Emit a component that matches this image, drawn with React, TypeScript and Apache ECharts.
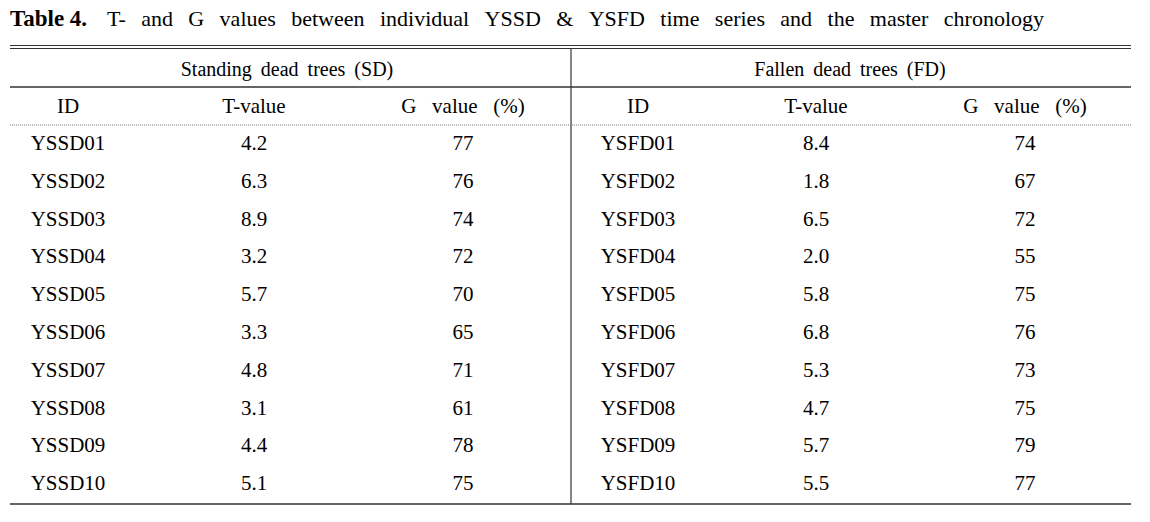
import React, { useEffect, useRef } from "react";
import * as echarts from "echarts";

const titleBold = "Table 4.";
const titleRest = "T- and G values between individual YSSD & YSFD time series and the master chronology";
const groupHeaders = ["Standing dead trees (SD)", "Fallen dead trees (FD)"];
const columnHeaders = ["ID", "T-value", "G value (%)", "ID", "T-value", "G value (%)"];
const sdIds = ["YSSD01", "YSSD02", "YSSD03", "YSSD04", "YSSD05", "YSSD06", "YSSD07", "YSSD08", "YSSD09", "YSSD10"];
const sdT = ["4.2", "6.3", "8.9", "3.2", "5.7", "3.3", "4.8", "3.1", "4.4", "5.1"];
const sdG = ["77", "76", "74", "72", "70", "65", "71", "61", "78", "75"];
const fdIds = ["YSFD01", "YSFD02", "YSFD03", "YSFD04", "YSFD05", "YSFD06", "YSFD07", "YSFD08", "YSFD09", "YSFD10"];
const fdT = ["8.4", "1.8", "6.5", "2.0", "5.8", "6.8", "5.3", "4.7", "5.7", "5.5"];
const fdG = ["74", "67", "72", "55", "75", "76", "73", "75", "79", "77"];

const FAMILY = "Liberation Serif";
const titleSpace = (s: string) => s.replace(/ /g, "\u2002\u2009");
const headSpace = (s: string) => s.replace(/ /g, "\u00A0\u2002");
const groupSpace = (s: string) => s.replace(/ /g, "\u00A0\u2009");

export default function App() {
  const ref = useRef<HTMLDivElement>(null);
  useEffect(() => {
    if (!ref.current) return;
    const chart = echarts.init(ref.current, undefined, { renderer: "svg" });
    const colX = [68, 254, 463, 638, 816, 1025];
    const groupX = [287, 850];
    const rowY0 = 143;
    const rowH = 37.8;
    const left = 10;
    const right = 1131;
    const divX = 571;
    const bottomY = 504;
    const txt = (x: number, y: number, text: string, extra: any = {}) => ({
      type: "text",
      x,
      y,
      style: {
        text,
        fill: "#000",
        fontFamily: FAMILY,
        fontSize: 21,
        fontWeight: "normal",
        align: "center",
        verticalAlign: "middle",
        ...extra,
      },
    });
    const line = (x1: number, y1: number, x2: number, y2: number, stroke: string, w: number, dash?: number[]) => ({
      type: "line",
      shape: { x1, y1, x2, y2 },
      style: { stroke, lineWidth: w, lineDash: dash },
    });
    const elements: any[] = [];
    elements.push(txt(10, 18, titleBold, { align: "left", fontWeight: "bold", fontSize: 23 }));
    elements.push(txt(107, 18, titleSpace(titleRest), { align: "left", fontSize: 22 }));
    elements.push(line(left, 45.5, right, 45.5, "#333", 1));
    elements.push(line(left, 48.5, right, 48.5, "#333", 1));
    elements.push(line(divX, 49, divX, bottomY, "#333", 1.2));
    groupHeaders.forEach((g, i) => elements.push(txt(groupX[i], 69, groupSpace(g), { fontSize: 20 })));
    elements.push(line(left, 87, right, 87, "#333", 1.6));
    columnHeaders.forEach((h, i) => elements.push(txt(colX[i], 106, h.includes("(") ? headSpace(h) : h)));
    elements.push(line(left, 125, divX - 1, 125, "#777", 1, [1, 1]));
    elements.push(line(divX + 1, 125, right, 125, "#777", 1, [1, 1]));
    const cols = [sdIds, sdT, sdG, fdIds, fdT, fdG];
    cols.forEach((col, c) => {
      col.forEach((v, r) => elements.push(txt(colX[c], rowY0 + r * rowH, v)));
    });
    elements.push(line(left, bottomY, right, bottomY, "#333", 1.6));
    chart.setOption({
      animation: false,
      backgroundColor: "#fff",
      graphic: { elements },
    });
    return () => chart.dispose();
  }, []);
  return (
    <div
      ref={ref}
      style={{ position: "fixed", left: 0, top: 0, width: 1150, height: 522, background: "#fff" }}
    />
  );
}
